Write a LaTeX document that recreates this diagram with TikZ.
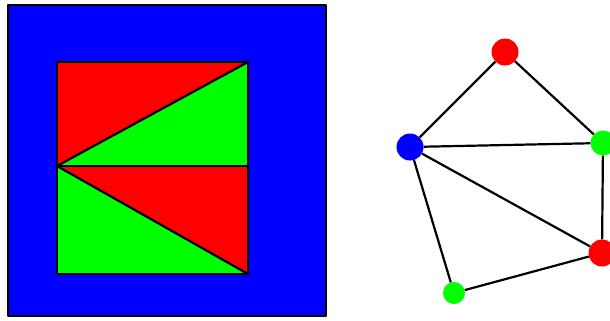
\documentclass[tikz,border=0pt]{standalone}
\usepackage{tikz}
\definecolor{pblue}{RGB}{0,0,255}
\definecolor{pred}{RGB}{255,0,0}
\definecolor{pgreen}{RGB}{0,255,0}
\newlength{\pxu}
\setlength{\pxu}{0.05cm}
\tikzset{
  vtx/.style={circle,inner sep=0pt,minimum size=27\pxu},
  edge/.style={black,line width=2.2\pxu},
}
\begin{document}
\begin{tikzpicture}[x=0.05cm,y=-0.05cm,line join=round]
\clip (0,0) rectangle (610,320);
\fill[white] (0,0) rectangle (610,320);
% coloured square
\filldraw[fill=pblue,draw=black,line width=1.5\pxu] (8,5) rectangle (326,316);
\coordinate (tl) at (57,62);
\coordinate (tr) at (248,62);
\coordinate (ml) at (57,166);
\coordinate (mr) at (248,166);
\coordinate (bl) at (57,274);
\coordinate (br) at (248,274);
\fill[pred] (tl)--(tr)--(ml)--cycle;
\fill[pgreen] (tr)--(mr)--(ml)--cycle;
\fill[pred] (ml)--(mr)--(br)--cycle;
\fill[pgreen] (ml)--(br)--(bl)--cycle;
\draw[edge] (tl) rectangle (br);
\draw[edge] (ml)--(mr);
\draw[edge] (ml)--(tr);
\draw[edge] (ml)--(br);
% graph
\node[vtx,fill=pred] (rt) at (505,52) {};
\node[vtx,fill=pblue] (bl1) at (410,147) {};
\node[vtx,fill=pgreen,minimum size=25\pxu] (gr) at (603,143) {};
\node[vtx,fill=pred] (rb) at (602,253) {};
\node[vtx,fill=pgreen,minimum size=22\pxu] (gb) at (454,293) {};
\draw[edge] (rt)--(bl1);
\draw[edge] (rt)--(gr);
\draw[edge] (bl1)--(gr);
\draw[edge] (bl1)--(rb);
\draw[edge] (bl1)--(gb);
\draw[edge] (gr)--(rb);
\draw[edge] (rb)--(gb);
\end{tikzpicture}
\end{document}
